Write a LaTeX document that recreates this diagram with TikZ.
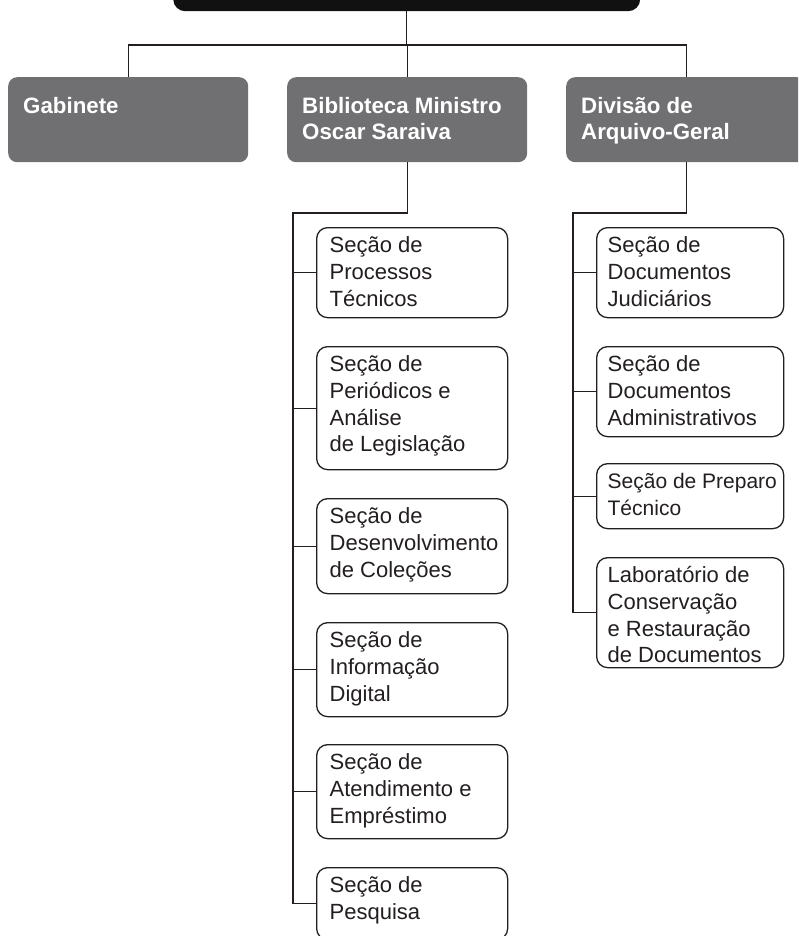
\documentclass[tikz,border=0pt]{standalone}
\usepackage{fontspec}
\setmainfont{Liberation Sans}
\hyphenpenalty=10000
\exhyphenpenalty=10000
\hfuzz=50pt
\hbadness=10000
\definecolor{ink}{HTML}{231F20}
\definecolor{headgray}{HTML}{707073}
\definecolor{topblack}{HTML}{111111}
\newcommand{\hbx}[2]{\parbox[c][#1][t]{210pt}{\rule{0pt}{36pt}#2}}
\newcommand{\sbx}[2]{\parbox[c][#1][t]{165pt}{\rule{0pt}{25pt}#2}}
\tikzset{
  conn/.style={draw=ink, line width=1.3pt},
  headbox/.style={fill=headgray, rounded corners=9pt, anchor=north west, inner xsep=15pt, inner ysep=0pt, text=white, font=\bfseries\fontsize{22.3}{26}\selectfont},
  subbox/.style={draw=ink, fill=white, line width=1.3pt, rounded corners=11pt, anchor=north west, inner xsep=13pt, inner ysep=0pt, text=ink, font=\fontsize{22}{26.7}\selectfont},
  topbox/.style={fill=topblack, rounded corners=12pt, anchor=north west, inner sep=0pt}
}
\begin{document}
\begin{tikzpicture}[x=1pt,y=-1pt]
\useasboundingbox (0,0) rectangle (798,936);
\clip (0,0) rectangle (798,936);

\node[topbox, minimum width=467pt, minimum height=40pt] (top) at (173,-29) {};

\node[headbox] (gab) at (8,77) {\hbx{85pt}{Gabinete}};
\node[headbox] (bib) at (287,77) {\hbx{85pt}{Biblioteca Ministro\\Oscar Saraiva}};
\node[headbox] (div) at (566,77) {\hbx{85pt}{Divisão de\\Arquivo-Geral}};

\node[subbox] (b1) at (316,227) {\sbx{90pt}{Seção de\\Processos\\Técnicos}};
\node[subbox] (b2) at (316,346) {\sbx{123pt}{Seção de\\Periódicos e\\Análise\\de Legislação}};
\node[subbox] (b3) at (316,498) {\sbx{95pt}{Seção de\\\mbox{Desenvolvimento}\\de Coleções}};
\node[subbox] (b4) at (316,622) {\sbx{94pt}{Seção de\\Informação\\Digital}};
\node[subbox] (b5) at (316,744) {\sbx{94pt}{Seção de\\Atendimento e\\Empréstimo}};
\node[subbox] (b6) at (316,867) {\sbx{72pt}{Seção de\\Pesquisa}};

\node[subbox, inner xsep=11pt] (d1) at (596,227) {\sbx{90pt}{Seção de\\Documentos\\Judiciários}};
\node[subbox, inner xsep=11pt] (d2) at (596,346) {\sbx{90pt}{Seção de\\Documentos\\\mbox{Administrativos}}};
\node[subbox, inner xsep=11pt, font=\fontsize{21}{26.7}\selectfont] (d3) at (596,463) {\sbx{65pt}{\mbox{Seção de Preparo}\\Técnico}};
\node[subbox, inner xsep=11pt] (d4) at (596,557) {\sbx{110pt}{Laboratório de\\Conservação\\e Restauração\\\mbox{de Documentos}}};

\coordinate (hub) at (407,45);
\draw[conn] (top.south) -- (top.south |- hub);
\draw[conn] (gab.north) |- (div.north |- hub) -- (div.north);
\draw[conn] (bib.north) -- (bib.north |- hub);

\coordinate (bt) at (293,213);
\draw[conn] (bib.south) |- (bt) |- (b6.west);
\foreach \n in {b1,b2,b3,b4,b5} \draw[conn] (bt |- \n.west) -- (\n.west);

\coordinate (dt) at (573,213);
\draw[conn] (div.south) |- (dt) |- (d4.west);
\foreach \n in {d1,d2,d3} \draw[conn] (dt |- \n.west) -- (\n.west);
\end{tikzpicture}
\end{document}
